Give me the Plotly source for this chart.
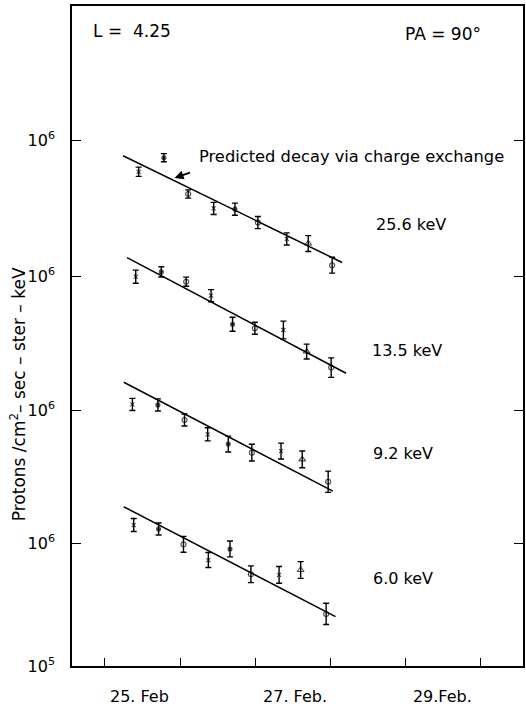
import numpy as np
import plotly.graph_objects as go

# ---------------- data ----------------
# time in days after 25 Feb 00:00 UT
energies = ["25.6 keV", "13.5 keV", "9.2 keV", "6.0 keV"]

t_256 = [0.450, 0.785, 1.109, 1.448, 1.731, 2.036, 2.420, 2.706, 3.024]
f_256 = [5.52e5, 7.18e5, 3.64e5, 2.78e5, 2.74e5, 2.13e5, 1.57e5, 1.44e5, 9.6e4]
e_256 = [0.09, 0.08, 0.08, 0.12, 0.12, 0.12, 0.12, 0.16, 0.16]

t_135 = [0.411, 0.751, 1.082, 1.413, 1.699, 1.996, 2.375, 2.685, 3.011]
f_135 = [9.87e5, 1.08e6, 8.99e5, 6.92e5, 4.05e5, 3.76e5, 3.64e5, 2.43e5, 1.80e5]
e_135 = [0.13, 0.10, 0.09, 0.12, 0.14, 0.12, 0.18, 0.15, 0.20]

t_92 = [0.367, 0.706, 1.060, 1.368, 1.642, 1.956, 2.344, 2.626, 2.971]
f_92 = [1.11e6, 1.10e6, 8.29e5, 6.34e5, 5.29e5, 4.50e5, 4.64e5, 3.97e5, 2.61e5]
e_92 = [0.12, 0.12, 0.12, 0.13, 0.16, 0.17, 0.16, 0.17, 0.22]

t_60 = [0.384, 0.715, 1.046, 1.377, 1.665, 1.943, 2.318, 2.605, 2.944]
f_60 = [1.40e6, 1.30e6, 9.76e5, 7.27e5, 8.94e5, 5.57e5, 5.50e5, 6.03e5, 2.65e5]
e_60 = [0.13, 0.12, 0.16, 0.15, 0.16, 0.17, 0.17, 0.17, 0.22]

# predicted decay via charge exchange (start/end of each line)
fit_t0 = [0.242, 0.295, 0.252, 0.252]
fit_t1 = [3.156, 3.209, 3.033, 3.069]
fit_f0 = [7.45e5, 1.41e6, 1.68e6, 1.97e6]
fit_f1 = [1.01e5, 1.62e5, 2.19e5, 2.52e5]

# decade shift applied to each curve for display (its own "10^6" mark)
shift_dec = [3.2764, 2.1707, 1.0813, 0.0]

x_ticklabels = ["25. Feb", "27. Feb.", "29.Feb."]
x_ticklabel_pos = [0.46, 2.53, 4.49]
day_ticks = [0, 1, 2, 3, 4, 5]

symbols = ["x-thin", "circle", "circle-open", "x-thin", "circle",
           "circle-open", "x-thin", "triangle-up-open", "circle-open"]
sizes = [4, 4, 5, 4, 4, 5, 4, 6, 5]

# ---------------- figure ----------------
FONT = "DejaVu Sans"
fig = go.Figure()

series = [(t_256, f_256, e_256), (t_135, f_135, e_135),
          (t_92, f_92, e_92), (t_60, f_60, e_60)]

for i, (t, f, e) in enumerate(series):
    k = 10 ** shift_dec[i]
    y = np.array(f) * k
    fac = 1 + np.array(e)
    up = y * (fac - 1)
    dn = y * (1 - 1 / fac)
    fig.add_trace(go.Scatter(
        x=[fit_t0[i], fit_t1[i]], y=[fit_f0[i] * k, fit_f1[i] * k],
        mode="lines", line=dict(color="black", width=1.5),
        showlegend=False, hoverinfo="skip"))
    fig.add_trace(go.Scatter(
        x=t, y=y, mode="markers",
        marker=dict(symbol=symbols, size=sizes, color="black",
                    line=dict(color="black", width=1.1)),
        error_y=dict(type="data", symmetric=False, array=up, arrayminus=dn,
                     color="black", thickness=1.4, width=3),
        name=energies[i], showlegend=False))

yticks = [1e5] + [1e6 * 10 ** s for s in shift_dec]
ytext = ["10<sup>5</sup>"] + ["10<sup>6</sup>"] * 4

W, H = 526, 708
L, R, T, B = 72, 1, 6, 42
pw, ph = W - L - R, H - T - B


def px(x):
    return (x - L) / pw


def py(y):
    return (H - B - y) / ph


fig.update_layout(
    width=W, height=H,
    margin=dict(l=L, r=R, t=T, b=B),
    paper_bgcolor="white", plot_bgcolor="white",
    font=dict(family=FONT, color="black", size=16),
    xaxis=dict(range=[-0.437, 5.563], showgrid=False, zeroline=False,
               showline=True, linecolor="black", linewidth=1.6, mirror=True,
               tickmode="array", tickvals=x_ticklabel_pos, ticktext=x_ticklabels,
               ticks="", ticklabelstandoff=15,
               tickfont=dict(size=16, family=FONT),
               minor=dict(tickmode="array", tickvals=day_ticks, ticks="inside",
                          ticklen=8, tickwidth=1.4, tickcolor="black")),
    yaxis=dict(type="log", range=[5, 5 + 660 / 123], showgrid=False,
               zeroline=False, showline=True, linecolor="black", linewidth=1.6,
               mirror="ticks", tickmode="array", tickvals=yticks, ticktext=ytext,
               ticks="inside", ticklen=9, tickwidth=1.2, tickcolor="black",
               ticklabelstandoff=12, tickfont=dict(size=16, family=FONT)),
)

ann = [
    dict(text="L =  4.25", x=px(91), y=py(31), xanchor="left", size=17),
    dict(text="PA = 90°", x=px(404), y=py(34), xanchor="left", size=17),
    dict(text="Predicted decay via charge exchange", x=px(198), y=py(157),
         xanchor="left", size=16.3),
    dict(text=energies[0], x=px(375), y=py(225), xanchor="left", size=16),
    dict(text=energies[1], x=px(371), y=py(350), xanchor="left", size=16),
    dict(text=energies[2], x=px(372), y=py(454), xanchor="left", size=16),
    dict(text=energies[3], x=px(372), y=py(578), xanchor="left", size=16),
]
for a in ann:
    s = a.pop("size")
    fig.add_annotation(xref="paper", yref="paper", showarrow=False,
                       yanchor="middle", font=dict(size=s, family=FONT), **a)

# arrow pointing at the predicted decay line
fig.add_annotation(xref="paper", yref="paper", x=px(175), y=py(178),
                   ax=17, ay=-6, showarrow=True, arrowhead=2, arrowsize=1,
                   arrowwidth=1.8, arrowcolor="black", text="")

# y-axis title
fig.add_annotation(xref="paper", yref="paper", x=px(18), y=py(394),
                   text="Protons /cm<sup>2</sup>– sec – ster – keV",
                   textangle=-90, showarrow=False, xanchor="center",
                   yanchor="middle", font=dict(size=17, family=FONT))

fig.write_html("out.html")
